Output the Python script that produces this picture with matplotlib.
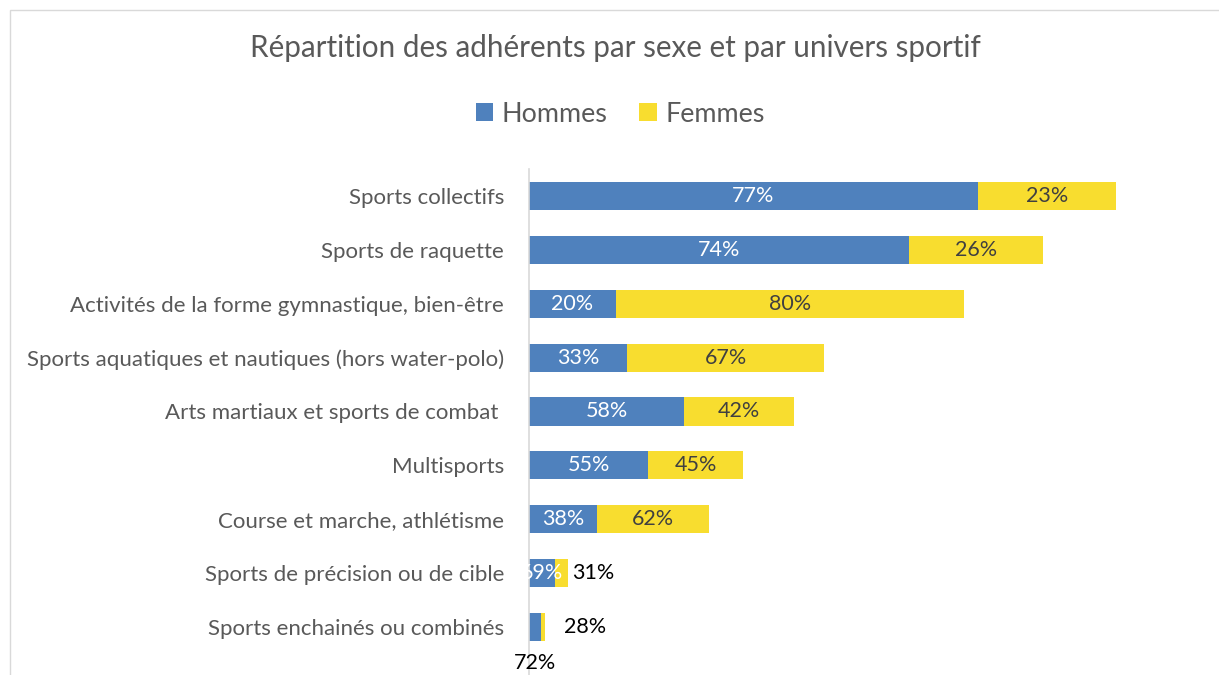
import matplotlib
matplotlib.use("Agg")
import matplotlib.pyplot as plt
from matplotlib.patches import Rectangle

categories = [
    "Sports collectifs",
    "Sports de raquette",
    "Activités de la forme gymnastique, bien-être",
    "Sports aquatiques et nautiques (hors water-polo)",
    "Arts martiaux et sports de combat ",
    "Multisports",
    "Course et marche, athlétisme",
    "Sports de précision ou de cible",
    "Sports enchainés ou combinés",
]
hommes = [449, 380, 87, 98, 155, 119, 68, 26, 12]
femmes = [138, 134, 348, 197, 110, 95, 112, 13, 4]
pct_hommes = ["77%", "74%", "20%", "33%", "58%", "55%", "38%", "69%", "72%"]
pct_femmes = ["23%", "26%", "80%", "67%", "42%", "45%", "62%", "31%", "28%"]

BLUE = "#4F81BD"
YELLOW = "#F8DD2F"
FONT = ["Lato", "DejaVu Sans"]
plt.rcParams["font.family"] = FONT

W, H = 1219, 675
fig = plt.figure(figsize=(W / 100, H / 100), dpi=100)

# outer border
fig.patches.append(Rectangle((10 / W, -0.01), 1.2, 1 - 10 / H + 0.01, transform=fig.transFigure,
                             fill=False, edgecolor="#D9D9D9", linewidth=1.0))

ax_left, ax_right = 529, 1190
ax_top, ax_bottom = 169, 675
ax = fig.add_axes([ax_left / W, 1 - ax_bottom / H, (ax_right - ax_left) / W, (ax_bottom - ax_top) / H])

y = list(range(len(categories)))
bh = 0.52
ax.barh(y, hommes, height=bh, color=BLUE, label="Hommes")
ax.barh(y, femmes, left=hommes, height=bh, color=YELLOW, label="Femmes")

ax.set_xlim(0, ax_right - ax_left)
ax.set_ylim(8.89, -0.5)
ax.set_yticks(y)
ax.set_yticklabels(categories, fontsize=16, color="#595959")
ax.tick_params(axis="y", length=0, pad=18)
ax.set_xticks([])
for s in ["top", "right", "bottom"]:
    ax.spines[s].set_visible(False)
ax.spines["left"].set_color("#D9D9D9")
ax.spines["left"].set_linewidth(1.2)

fs = 15.5
for i in range(len(categories)):
    h, f = hommes[i], femmes[i]
    if i < 7:
        ax.text(h / 2, i, pct_hommes[i], ha="center", va="center", color="white", fontsize=fs)
        ax.text(h + f / 2, i, pct_femmes[i], ha="center", va="center", color="#404040", fontsize=fs)
    elif i == 7:
        ax.text(h / 2, i, pct_hommes[i], ha="center", va="center", color="white", fontsize=fs)
        ax.annotate(pct_femmes[i], (h + f, i), xytext=(3, 0), textcoords="offset points",
                    ha="left", va="center", color="black", fontsize=fs)
    else:
        ax.annotate(pct_femmes[i], (h + f, i), xytext=(14, 0), textcoords="offset points",
                    ha="left", va="center", color="black", fontsize=fs)
        ax.annotate(pct_hommes[i], (h / 2, i), xytext=(0, -26), textcoords="offset points",
                    ha="center", va="center", color="black", fontsize=fs)

fig.text(615 / W, 1 - 48 / H, "Répartition des adhérents par sexe et par univers sportif",
         ha="center", va="center", fontsize=21.3, color="#595959")

handles, labels = ax.get_legend_handles_labels()
fig.legend(handles, labels, loc="center", bbox_to_anchor=(620 / W, 1 - 114 / H), ncol=2,
           frameon=False, fontsize=19.4, handlelength=0.65, handleheight=0.65,
           handletextpad=0.3, columnspacing=1.2, labelcolor="#595959")

fig.savefig("out.png", dpi=100)
